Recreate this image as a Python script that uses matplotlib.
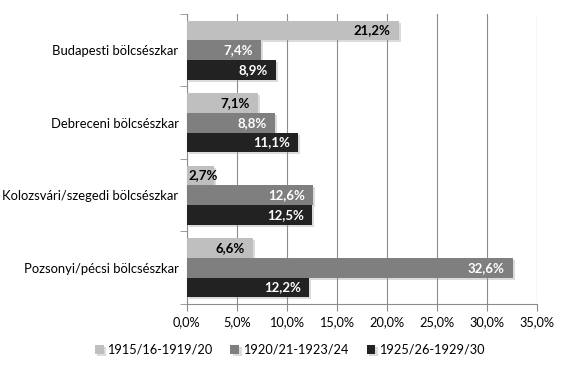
import numpy as np
import matplotlib.pyplot as plt
import matplotlib.patheffects as pe
from matplotlib.ticker import FuncFormatter, FixedLocator

plt.rcParams['font.family'] = ['Lato', 'DejaVu Sans']

categories = ['Budapesti bölcsészkar', 'Debreceni bölcsészkar',
              'Kolozsvári/szegedi bölcsészkar', 'Pozsonyi/pécsi bölcsészkar']
series_names = ['1915/16-1919/20', '1920/21-1923/24', '1925/26-1929/30']
s1 = [21.2, 7.1, 2.7, 6.6]
s2 = [7.4, 8.8, 12.6, 32.6]
s3 = [8.9, 11.1, 12.5, 12.2]
colors = ['#bfbfbf', '#7f7f7f', '#222222']
label_colors = ['black', 'white', 'white']

fig = plt.figure(figsize=(5.68, 3.71), dpi=100)
ax = fig.add_axes([0.329, 0.1806, 0.6166, 0.7817])

y = np.arange(len(categories))
h = 0.272
shadow = [pe.SimplePatchShadow(offset=(1.5, -1.5), shadow_rgbFace='#999999', alpha=0.35), pe.Normal()]

for k, vals in enumerate([s1, s2, s3]):
    pos = y + (k - 1) * h
    bars = ax.barh(pos, vals, height=h, color=colors[k], label=series_names[k], zorder=3)
    for b in bars:
        b.set_path_effects(shadow)
    for p, v in zip(pos, vals):
        txt = f'{v:.1f}%'.replace('.', ',')
        if v < 4:
            ax.annotate(txt, (0, p), xytext=(1, 0), textcoords='offset points',
                        ha='left', va='center', fontsize=9.5, fontweight='bold',
                        color=label_colors[k], zorder=4)
        else:
            ax.annotate(txt, (v, p), xytext=(-6, 0), textcoords='offset points',
                        ha='right', va='center', fontsize=9.5, fontweight='bold',
                        color=label_colors[k], zorder=4)

ax.set_xlim(0, 35)
ax.set_ylim(3.5, -0.5)
ax.set_xticks(np.arange(0, 36, 5))
ax.xaxis.set_major_formatter(FuncFormatter(lambda x, _: f'{x:.1f}%'.replace('.', ',')))
ax.grid(axis='x', color='#8c8c8c', linewidth=0.8, zorder=0)

ax.set_yticks(y)
ax.set_yticklabels(categories)
ax.yaxis.set_minor_locator(FixedLocator(np.arange(-0.5, 4, 1)))
ax.tick_params(axis='y', which='major', length=0, pad=6, labelsize=9.4)
ax.tick_params(axis='y', which='minor', length=5, color='#8c8c8c')
ax.tick_params(axis='x', length=5, color='#8c8c8c', labelsize=9.2, pad=4)

for s in ['top', 'right']:
    ax.spines[s].set_visible(False)
for s in ['left', 'bottom']:
    ax.spines[s].set_color('#8c8c8c')

fig.legend(loc='center', bbox_to_anchor=(0.51, 0.057), ncol=3, frameon=False,
           fontsize=9.2, handlelength=0.7, handleheight=0.7, handletextpad=0.3,
           columnspacing=1.4)

fig.savefig('out.png', dpi=100)
